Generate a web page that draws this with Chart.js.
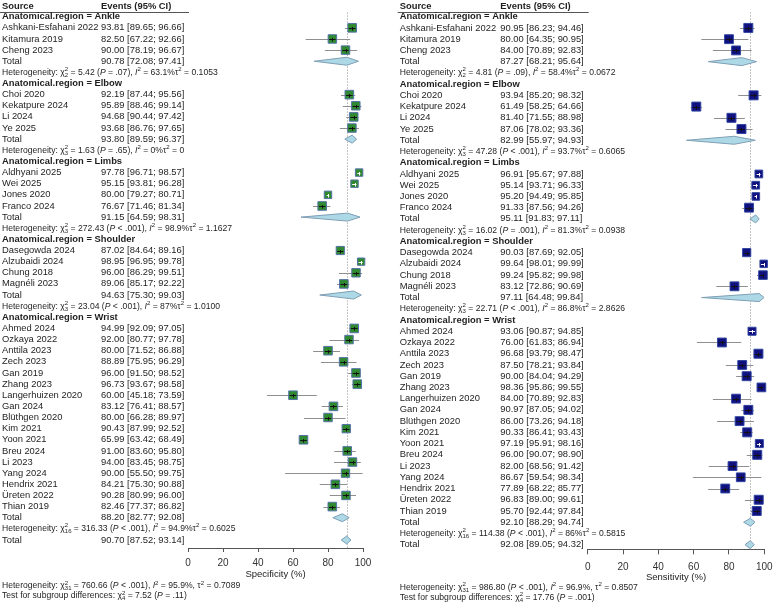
<!DOCTYPE html>
<html>
<head>
<meta charset="utf-8">
<script src="https://cdn.jsdelivr.net/npm/chart.js@4.4.1/dist/chart.umd.min.js"></script>
<style>
  html, body { margin: 0; padding: 0; background: #fff; }
  .panel { position: absolute; top: 0; width: 387px; height: 608px; }
  #left { left: 0; }
  #right { left: 387px; }
</style>
</head>
<body>
<div class="panel" id="left"><canvas id="spec"></canvas></div>
<div class="panel" id="right"><canvas id="sens"></canvas></div>
<script>
// Groups and studies (same order in both panels)
const regions = ['Ankle', 'Elbow', 'Limbs', 'Shoulder', 'Wrist'];
const groupSizes = [3, 4, 4, 4, 17];
const studyNames = [
  'Ashkani-Esfahani 2022', 'Kitamura 2019', 'Cheng 2023',
  'Choi 2020', 'Kekatpure 2024', 'Li 2024', 'Ye 2025',
  'Aldhyani 2025', 'Wei 2025', 'Jones 2020', 'Franco 2024',
  'Dasegowda 2024', 'Alzubaidi 2024', 'Chung 2018', 'Magnéli 2023',
  'Ahmed 2024', 'Ozkaya 2022', 'Anttila 2023', 'Zech 2023', 'Gan 2019', 'Zhang 2023',
  'Langerhuizen 2020', 'Gan 2024', 'Blüthgen 2020', 'Kim 2021', 'Yoon 2021', 'Breu 2024',
  'Li 2023', 'Yang 2024', 'Hendrix 2021', 'Üreten 2022', 'Thian 2019'
];
const tickValues = [0, 20, 40, 60, 80, 100];

// Specificity
const specEst = [93.81, 82.50, 90.00, 92.19, 95.89, 94.68, 93.68, 97.78, 95.15, 80.00, 76.67, 87.02, 98.95, 96.00, 89.06,
  94.99, 92.00, 80.00, 88.89, 96.00, 96.73, 60.00, 83.12, 80.00, 90.43, 65.99, 91.00, 94.00, 90.00, 84.21, 90.28, 82.46];
const specLo = [89.65, 67.22, 78.19, 87.44, 88.46, 90.44, 86.76, 96.71, 93.81, 79.27, 71.46, 84.64, 96.95, 86.29, 85.17,
  92.09, 80.77, 71.52, 75.95, 91.50, 93.67, 45.18, 76.41, 66.28, 87.99, 63.42, 83.60, 83.45, 55.50, 75.30, 80.99, 77.37];
const specHi = [96.66, 92.66, 96.67, 95.56, 99.14, 97.42, 97.65, 98.57, 96.28, 80.71, 81.34, 89.16, 99.78, 99.51, 92.22,
  97.05, 97.78, 86.88, 96.29, 98.52, 98.58, 73.59, 88.57, 89.97, 92.52, 68.49, 95.80, 98.75, 99.75, 90.88, 96.00, 86.82];
const specWeight = [3.2, 3.1, 3.1, 3.2, 3.1, 3.2, 3.1, 2.4, 2.4, 2.4, 3.2, 2.9, 2.3, 3.1, 3.2,
  3.2, 3.1, 3.2, 3.1, 3.2, 3.2, 3.2, 3.2, 3.1, 3.0, 3.2, 3.2, 3.1, 3.0, 3.2, 3.1, 3.2];
const specTotEst = [90.78, 93.80, 91.15, 94.63, 88.20, 90.70];
const specTotLo = [72.08, 89.59, 64.59, 75.30, 82.77, 87.52];
const specTotHi = [97.41, 96.37, 98.31, 99.03, 92.08, 93.14];
// subgroups, overall, test for subgroup differences
const specChi = [5.42, 1.63, 272.43, 23.04, 316.33, 760.66, 7.52];
const specDf = [2, 3, 3, 3, 16, 31, 4];
const specP = ['= .07', '= .65', '< .001', '< .001', '< .001', '< .001', '= .11'];
const specI2 = ['63.1', '0', '98.9', '87', '94.9', '95.9'];
const specTau2 = ['0.1053', '0', '1.1627', '1.0100', '0.6025', '0.7089'];

// Sensitivity
const sensEst = [90.95, 80.00, 84.00, 93.94, 61.49, 81.40, 87.06, 96.91, 95.14, 95.20, 91.33, 90.03, 99.64, 99.24, 83.12,
  93.06, 76.00, 96.68, 87.50, 90.00, 98.36, 84.00, 90.97, 86.00, 90.33, 97.19, 96.00, 82.00, 86.67, 77.89, 96.83, 95.70];
const sensLo = [86.23, 64.35, 70.89, 85.20, 58.25, 71.55, 78.02, 95.67, 93.71, 94.49, 87.56, 87.69, 98.01, 95.82, 72.86,
  90.87, 61.83, 93.79, 78.21, 84.04, 95.86, 70.89, 87.05, 73.26, 86.41, 95.91, 90.07, 68.56, 59.54, 68.22, 89.00, 92.44];
const sensHi = [94.46, 90.95, 92.83, 98.32, 64.66, 88.98, 93.36, 97.88, 96.33, 95.85, 94.26, 92.05, 99.99, 99.98, 90.69,
  94.85, 86.94, 98.47, 93.84, 94.29, 99.55, 92.83, 94.02, 94.18, 93.43, 98.16, 98.90, 91.42, 98.34, 85.77, 99.61, 97.84];
const sensWeight = [3.5, 3.4, 3.4, 3.5, 3.5, 3.5, 3.5, 2.6, 2.6, 2.5, 3.4, 2.9, 2.4, 3.2, 3.4,
  2.8, 3.4, 3.5, 3.4, 3.5, 3.3, 3.4, 3.5, 3.4, 3.5, 2.8, 3.5, 3.4, 3.3, 3.4, 3.5, 3.5];
const sensTotEst = [87.27, 82.99, 95.11, 97.11, 92.10, 92.08];
const sensTotLo = [68.21, 55.97, 91.83, 64.48, 88.29, 89.05];
const sensTotHi = [95.64, 94.93, 97.11, 99.84, 94.74, 94.32];
const sensChi = [4.81, 47.28, 16.02, 22.71, 114.38, 986.80, 17.76];
const sensDf = [2, 3, 3, 3, 16, 31, 4];
const sensP = ['= .09', '< .001', '= .001', '< .001', '< .001', '< .001', '= .001'];
const sensI2 = ['58.4', '93.7', '81.3', '86.8', '86', '96.9'];
const sensTau2 = ['0.0672', '0.6065', '0.0938', '2.8626', '0.5815', '0.8507'];

const FONT = "'Liberation Sans', Arial, sans-serif";
const TXT = 9.4;
const HET = 8.6;

// square side in px from study weight
function boxSide(w) { return 4.8 * Math.sqrt(w); }

// Build the row list: header, studies, total, heterogeneity for every group, then overall total
function buildRows(d) {
  const rows = [];
  let r = 1, k = 0;
  regions.forEach((reg, g) => {
    rows.push({ type: 'head', row: r++, text: 'Anatomical.region = ' + reg });
    for (let j = 0; j < groupSizes[g]; j++, k++) {
      rows.push({ type: 'study', row: r++, name: studyNames[k], est: d.est[k], lo: d.lo[k], hi: d.hi[k], w: d.weight[k] });
    }
    rows.push({ type: 'total', row: r++, name: 'Total', est: d.totEst[g], lo: d.totLo[g], hi: d.totHi[g] });
    rows.push({ type: 'het', row: r++, g: g });
  });
  rows.push({ type: 'total', row: r, name: 'Total', est: d.totEst[5], lo: d.totLo[5], hi: d.totHi[5], overall: true });
  return rows;
}

function ciText(e, l, h) { return e.toFixed(2) + ' [' + l.toFixed(2) + '; ' + h.toFixed(2) + ']'; }

// draw text made of normal / italic / superscript / stacked sup-sub pieces
function richText(ctx, x, y, parts, size) {
  ctx.textBaseline = 'middle';
  ctx.textAlign = 'left';
  parts.forEach(([t, s]) => {
    if (s === 'ss') {
      ctx.font = (size * 0.7) + 'px ' + FONT;
      ctx.fillText(t[0], x, y - size * 0.36);
      ctx.fillText(t[1], x, y + size * 0.32);
      x += Math.max(ctx.measureText(t[0]).width, ctx.measureText(t[1]).width);
    } else if (s === 'sup') {
      ctx.font = (size * 0.7) + 'px ' + FONT;
      ctx.fillText(t, x, y - size * 0.36);
      x += ctx.measureText(t).width;
    } else {
      ctx.font = (s === 'i' ? 'italic ' : '') + size + 'px ' + FONT;
      ctx.fillText(t, x, y);
      x += ctx.measureText(t).width;
    }
  });
}

function hetParts(d, i, comma) {
  return [['Heterogeneity: ', 'n'], ['χ', 'n'], [['2', String(d.df[i])], 'ss'],
    [' = ' + d.chi[i].toFixed(2) + ' (', 'n'], ['P', 'i'], [' ' + d.p[i] + '), ', 'n'],
    ['I', 'i'], ['2', 'sup'], [' = ' + d.i2[i] + '%' + (comma ? ', ' : ''), 'n'],
    ['τ', 'n'], ['2', 'sup'], [' = ' + d.tau2[i], 'n']];
}

const forestPlugin = {
  id: 'forest',
  beforeDatasetsDraw(chart) {
    const { ctx, chartArea, scales: { x, y } } = chart;
    const look = chart.options.plugins.forest;
    const rows = look.rows;
    const overall = rows[rows.length - 1];
    ctx.save();
    // reference line at the overall estimate
    ctx.strokeStyle = '#8c8c8c';
    ctx.lineWidth = 1;
    ctx.setLineDash([1, 2]);
    const xr = Math.round(x.getPixelForValue(overall.est)) + 0.5;
    ctx.beginPath();
    ctx.moveTo(xr, y.getPixelForValue(0) + 7);
    ctx.lineTo(xr, chartArea.bottom);
    ctx.stroke();
    ctx.setLineDash([]);
    // confidence intervals
    ctx.strokeStyle = '#8f8f8f';
    rows.filter(r => r.type === 'study').forEach(r => {
      const py = Math.round(y.getPixelForValue(r.row)) + 0.5;
      ctx.beginPath();
      ctx.moveTo(x.getPixelForValue(r.lo), py);
      ctx.lineTo(x.getPixelForValue(r.hi), py);
      ctx.stroke();
    });
    // pooled diamonds
    ctx.fillStyle = '#add8e6';
    ctx.strokeStyle = '#7f9fb5';
    rows.filter(r => r.type === 'total').forEach(r => {
      const py = y.getPixelForValue(r.row);
      ctx.beginPath();
      ctx.moveTo(x.getPixelForValue(r.lo), py);
      ctx.lineTo(x.getPixelForValue(r.est), py - 4);
      ctx.lineTo(x.getPixelForValue(r.hi), py);
      ctx.lineTo(x.getPixelForValue(r.est), py + 4);
      ctx.closePath();
      ctx.fill();
      ctx.stroke();
    });
    ctx.restore();
  },
  afterDatasetsDraw(chart) {
    const { ctx, scales: { x, y } } = chart;
    const rows = chart.options.plugins.forest.rows;
    ctx.save();
    ctx.lineWidth = 1;
    rows.filter(r => r.type === 'study').forEach(r => {
      const half = boxSide(r.w) / 2;
      const xe = x.getPixelForValue(r.est);
      const x0 = x.getPixelForValue(r.lo), x1 = x.getPixelForValue(r.hi);
      const py = Math.round(y.getPixelForValue(r.row)) + 0.5;
      const inside = x0 > xe - half && x1 < xe + half;
      ctx.strokeStyle = inside ? '#ffffff' : '#111111';
      ctx.beginPath();
      ctx.moveTo(Math.max(x0, xe - half + 1), py);
      ctx.lineTo(Math.min(x1, xe + half - 1), py);
      const xt = Math.round(xe) + 0.5;
      ctx.moveTo(xt, py - 1.5);
      ctx.lineTo(xt, py + 2);
      ctx.stroke();
    });
    ctx.restore();
  },
  afterDraw(chart) {
    const { ctx, chartArea, scales: { y } } = chart;
    const look = chart.options.plugins.forest;
    const d = look.data;
    ctx.save();
    ctx.fillStyle = '#1e1e1e';
    ctx.textBaseline = 'middle';
    ctx.textAlign = 'left';
    // column headers
    const y0 = y.getPixelForValue(0) + 0.8;
    ctx.font = 'bold ' + TXT + 'px ' + FONT;
    ctx.fillText('Source', look.nameX, y0);
    ctx.fillText('Events (95% CI)', look.valueX, y0);
    ctx.strokeStyle = '#555';
    ctx.lineWidth = 1;
    const yl = Math.round(y0 + 6) + 0.5;
    ctx.beginPath();
    ctx.moveTo(look.nameX - 2, yl);
    ctx.lineTo(chartArea.left + 1, yl);
    ctx.stroke();
    look.rows.forEach(r => {
      const py = y.getPixelForValue(r.row);
      if (r.type === 'head') {
        ctx.font = 'bold ' + TXT + 'px ' + FONT;
        ctx.fillText(r.text, look.nameX, py);
      } else if (r.type === 'het') {
        richText(ctx, look.nameX, py, hetParts(d, r.g, false), HET);
      } else {
        ctx.font = TXT + 'px ' + FONT;
        ctx.fillText(r.name, look.nameX, py);
        ctx.fillText(ciText(r.est, r.lo, r.hi), look.valueX, py);
      }
    });
    // overall heterogeneity and subgroup test under the axis
    richText(ctx, look.nameX, look.footY[0], hetParts(d, 5, true), HET);
    richText(ctx, look.nameX, look.footY[1], [['Test for subgroup differences: ', 'n'], ['χ', 'n'],
      [['2', String(d.df[6])], 'ss'], [' = ' + d.chi[6].toFixed(2) + ' (', 'n'], ['P', 'i'], [' ' + d.p[6] + ')', 'n']], HET);
    ctx.restore();
  }
};

function makeForest(id, d, look) {
  const rows = buildRows(d);
  const studies = rows.filter(r => r.type === 'study');
  look.rows = rows;
  look.data = d;
  return new Chart(document.getElementById(id), {
    type: 'scatter',
    data: {
      datasets: [{
        data: studies.map(r => ({ x: r.est, y: r.row })),
        pointStyle: 'rect',
        pointRadius: studies.map(r => boxSide(r.w) / Math.SQRT2),
        pointHoverRadius: studies.map(r => boxSide(r.w) / Math.SQRT2),
        pointBackgroundColor: look.box,
        pointBorderColor: look.boxBorder,
        pointBorderWidth: 1,
        clip: false
      }]
    },
    options: {
      responsive: true,
      maintainAspectRatio: false,
      animation: false,
      events: [],
      devicePixelRatio: 1,
      layout: { padding: look.padding, autoPadding: false },
      plugins: { legend: { display: false }, tooltip: { enabled: false }, forest: look },
      scales: {
        x: {
          type: 'linear',
          min: 0,
          max: 100,
          afterBuildTicks: s => { s.ticks = tickValues.map(v => ({ value: v })); },
          ticks: { color: '#333', font: { family: FONT, size: 10 }, padding: look.tickPad, maxRotation: 0 },
          grid: { drawOnChartArea: false, drawTicks: true, tickLength: look.tickLen, color: '#555' },
          border: { display: true, color: '#555', width: 1 },
          title: { display: true, text: look.title, color: '#222', font: { family: FONT, size: 9.5 }, padding: { top: 0, bottom: 0 } },
          afterFit: s => {
            s.height = look.axisH;
            // the edge labels fit inside the layout padding already
            s.paddingLeft = 0;
            s.paddingRight = 0;
          }
        },
        y: { type: 'linear', display: false, reverse: true, min: look.yMin, max: look.yMax }
      }
    },
    plugins: [forestPlugin]
  });
}

makeForest('spec', {
  est: specEst, lo: specLo, hi: specHi, weight: specWeight,
  totEst: specTotEst, totLo: specTotLo, totHi: specTotHi,
  chi: specChi, df: specDf, p: specP, i2: specI2, tau2: specTau2
}, {
  title: 'Specificity (%)', box: '#2f8a2f', boxBorder: '#5572a8',
  padding: { left: 188, right: 24, top: 0, bottom: 28 },
  axisH: 32, tickLen: 4, tickPad: 5, yMin: -0.5, yMax: 48.72,
  nameX: 2, valueX: 101, footY: [586, 596]
});

makeForest('sens', {
  est: sensEst, lo: sensLo, hi: sensHi, weight: sensWeight,
  totEst: sensTotEst, totLo: sensTotLo, totHi: sensTotHi,
  chi: sensChi, df: sensDf, p: sensP, i2: sensI2, tau2: sensTau2
}, {
  title: 'Sensitivity (%)', box: '#10107f', boxBorder: '#3046a0',
  padding: { left: 200.7, right: 9.7, top: 0, bottom: 24.6 },
  axisH: 34.1, tickLen: 5, tickPad: 7.4, yMin: -0.487, yMax: 48.41,
  nameX: 12.7, valueX: 113.3, footY: [587.7, 597.7]
});
</script>
</body>
</html>
